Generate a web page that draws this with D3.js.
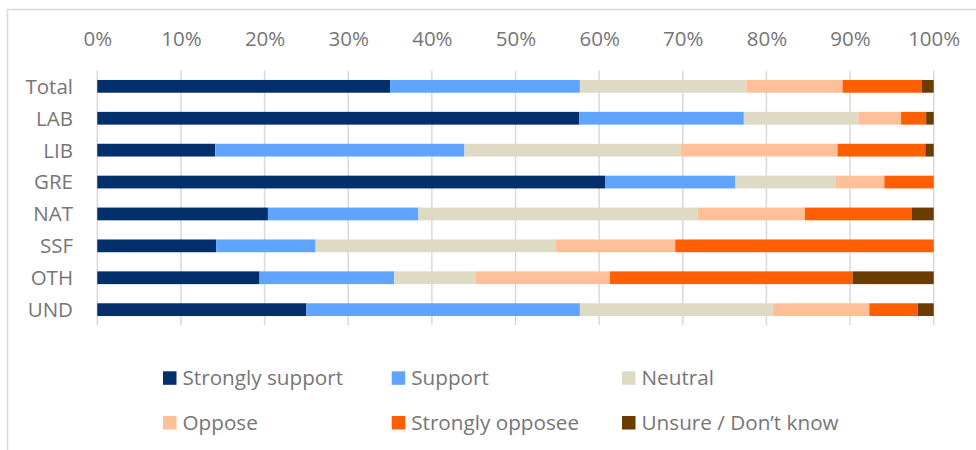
<!DOCTYPE html>
<html>
<head>
<meta charset="utf-8">
<script src="https://cdn.jsdelivr.net/npm/d3@7"></script>
<style>
  html, body { margin: 0; padding: 0; background: #fff; }
  svg { display: block; }
  text { font-family: "Open Sans", "Liberation Sans", sans-serif; fill: #767676; }
</style>
</head>
<body>
<svg id="chart" width="976" height="450"></svg>
<script>
const categories = ["Total", "LAB", "LIB", "GRE", "NAT", "SSF", "OTH", "UND"];
const seriesNames = ["Strongly support", "Support", "Neutral", "Oppose", "Strongly opposee", "Unsure / Don\u2019t know"];
const seriesColors = ["#002F6C", "#5FA5FF", "#DEDAC4", "#FFBF99", "#FF5F00", "#6A3C00"];
const stronglySupport = [35.0, 57.6, 14.1, 60.7, 20.4, 14.2, 19.4, 25.0];
const support         = [22.7, 19.7, 29.8, 15.6, 18.0, 11.9, 16.1, 32.7];
const neutral         = [19.9, 13.7, 25.8, 12.0, 33.4, 28.7,  9.7, 23.1];
const oppose          = [11.5,  5.1, 18.8,  5.8, 12.8, 14.3, 16.1, 11.5];
const stronglyOppose  = [ 9.5,  3.0, 10.5,  5.9, 12.8, 30.9, 29.0,  5.8];
const unsure          = [ 1.4,  0.9,  1.0,  0.0,  2.6,  0.0,  9.7,  1.9];
const tickValues = [0, 10, 20, 30, 40, 50, 60, 70, 80, 90, 100];

const seriesValues = [stronglySupport, support, neutral, oppose, stronglyOppose, unsure];
const rows = categories.map((c, i) => {
  const r = { cat: c };
  seriesNames.forEach((s, j) => r[s] = seriesValues[j][i]);
  return r;
});
// normalise each row to 100%
const normRows = rows.map(r => {
  const tot = d3.sum(seriesNames, s => r[s]);
  const o = { cat: r.cat };
  seriesNames.forEach(s => o[s] = r[s] / tot * 100);
  return o;
});

const svg = d3.select("#chart");

// outer chart border
svg.append("rect")
  .attr("x", 7.5).attr("y", 9.5)
  .attr("width", 1100).attr("height", 600)
  .attr("fill", "none").attr("stroke", "#D9D9D9").attr("stroke-width", 1.5);

const x = d3.scaleLinear().domain([0, 100]).range([97.3, 933.7]);
const y = d3.scaleBand().domain(categories).range([70.4, 325.6]).paddingInner(0.6).paddingOuter(0.3);

// gridlines
svg.append("g").selectAll("line").data(tickValues).join("line")
  .attr("x1", d => x(d)).attr("x2", d => x(d))
  .attr("y1", 70.5).attr("y2", 325)
  .attr("stroke", "#D9D9D9").attr("stroke-width", 1.5);

// top axis labels
const xAxis = d3.axisTop(x).tickValues(tickValues).tickFormat(d => d + "%").tickSize(0).tickPadding(0);
const gx = svg.append("g").attr("transform", "translate(0,46)").call(xAxis);
gx.select(".domain").remove();
gx.selectAll("text").attr("font-size", "20.5px").attr("fill", "#747474")
  .attr("font-family", "'Open Sans', sans-serif").attr("dy", 0);

// left category labels
const yAxis = d3.axisLeft(y).tickSize(0).tickPadding(0);
const gy = svg.append("g").attr("transform", "translate(73,0)").call(yAxis);
gy.select(".domain").remove();
gy.selectAll("text").attr("font-size", "20.5px").attr("fill", "#747474")
  .attr("font-family", "'Open Sans', sans-serif").attr("dy", "0.36em");

// stacked bars
const stack = d3.stack().keys(seriesNames);
const stacked = stack(normRows);
svg.append("g").selectAll("g").data(stacked).join("g")
  .attr("fill", (d, i) => seriesColors[i])
  .selectAll("rect").data(d => d).join("rect")
  .attr("x", d => x(d[0]))
  .attr("width", d => Math.max(0, x(d[1]) - x(d[0])))
  .attr("y", d => y(d.data.cat))
  .attr("height", y.bandwidth());

// legend
const legCols = [163, 391.7, 622];
const legRows = [378, 422.7];
const leg = svg.append("g").selectAll("g").data(seriesNames).join("g")
  .attr("transform", (d, i) => `translate(${legCols[i % 3]},${legRows[Math.floor(i / 3)]})`);
leg.append("rect")
  .attr("x", 0).attr("y", -6.7).attr("width", 13.5).attr("height", 13.5)
  .attr("fill", (d, i) => seriesColors[i]);
leg.append("text")
  .attr("x", 19.5).attr("y", 0).attr("dy", "0.36em")
  .attr("font-size", "20.7px").attr("fill", "#747474")
  .text(d => d);
</script>
</body>
</html>
